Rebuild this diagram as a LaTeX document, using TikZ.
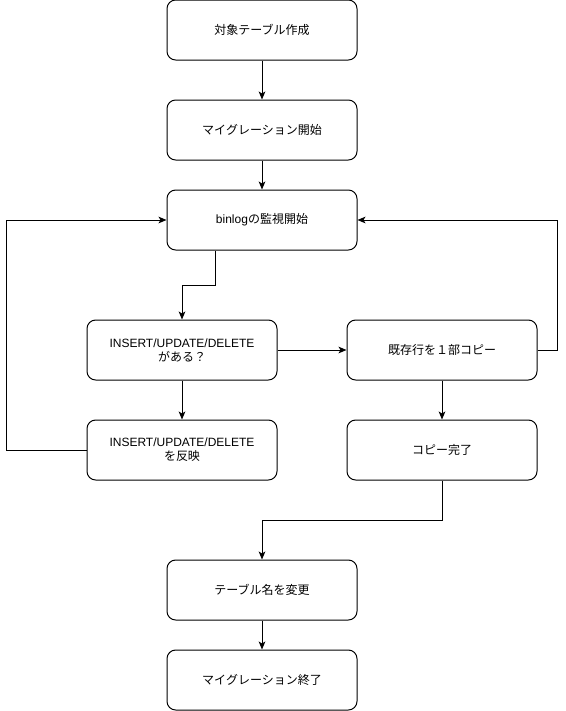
\documentclass[tikz,border=0pt]{standalone}
\usepackage{fontspec}
\setmainfont{Liberation Sans}
\newfontfamily\jp{Noto Sans CJK JP}
\usetikzlibrary{arrows.meta}

\begin{document}
\begin{tikzpicture}[x=0.75pt, y=-0.75pt,
		box/.style={rectangle, rounded corners=6.5pt, draw, line width=0.75pt,
			minimum width=142.5pt, minimum height=45pt, align=center,
			font=\fontsize{9pt}{10.5pt}\selectfont},
		arr/.style={line width=0.75pt, -{Stealth[length=6pt, width=5pt, inset=1.5pt]}}]
		\useasboundingbox (0,0) rectangle (566,711);

		% Colonna centrale
		\node[box] (T1) at (262,30) {\jp 対象テーブル作成};
		\node[box] (T2) at (262,130) {\jp マイグレーション開始};
		\node[box] (T3) at (262,220) {binlog{\jp の監視開始}};

		% Ramo sinistro
		\node[box] (T4) at (182,350) {INSERT/UPDATE/DELETE\\{\jp がある？}};
		\node[box] (T6) at (182,450) {INSERT/UPDATE/DELETE\\{\jp を反映}};

		% Ramo destro
		\node[box] (T5) at (442,350) {\jp 既存行を１部コピー};
		\node[box] (T7) at (442,450) {\jp コピー完了};

		% Fine
		\node[box] (T8) at (262,590) {\jp テーブル名を変更};
		\node[box] (T9) at (262,680) {\jp マイグレーション終了};

		\draw[arr] (T1) -- (T2);
		\draw[arr] (T2) -- (T3);
		\draw[arr] ([xshift=-35.25pt]T3.south) -- ++(0,35) -| (T4.north);
		\draw[arr] (T4) -- (T5);
		\draw[arr] (T4) -- (T6);
		\draw[arr] (T5) -- (T7);
		\draw[arr] (T6.west) -- ++(-80,0) |- (T3.west); % ritorno
		\draw[arr] (T5.east) -- ++(20,0) |- (T3.east); % ritorno
		\draw[arr] (T7.south) -- ++(0,40) -| (T8.north);
		\draw[arr] (T8) -- (T9);
	\end{tikzpicture}
\end{document}
